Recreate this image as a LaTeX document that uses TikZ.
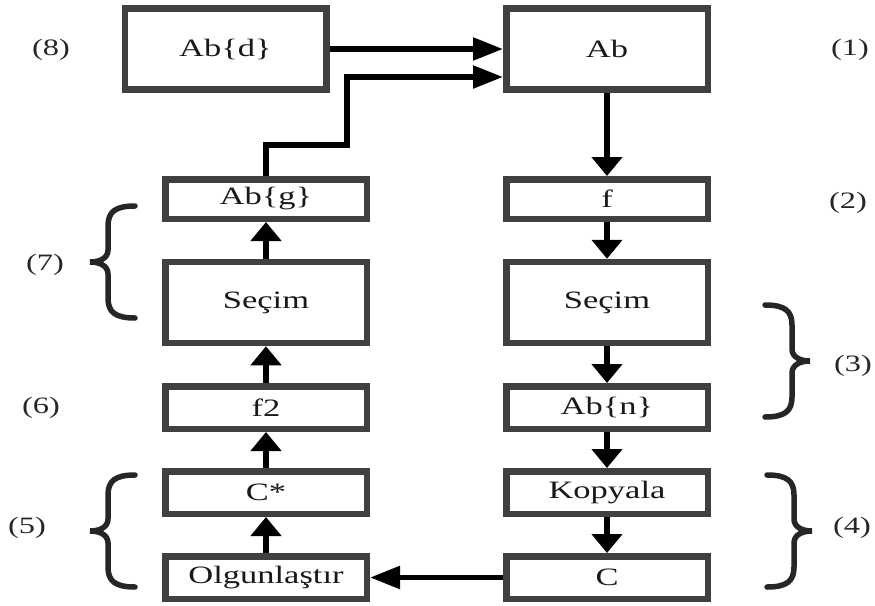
\documentclass[tikz,border=0pt]{standalone}
\usepackage{fontspec}
\setmainfont{Liberation Serif}[FakeStretch=1.38]
\usetikzlibrary{arrows.meta}
\begin{document}
\begin{tikzpicture}[x=1pt,y=-1pt,
  box/.style={draw=black!75,line width=6.5pt,fill=white,inner sep=0pt,
    font=\fontsize{25}{27}\selectfont,text=black!90,minimum width=201.5pt},
  tall/.style={box,minimum height=81pt},
  short/.style={box,minimum height=42.5pt},
  varrow/.style={line width=6.5pt,-{Triangle[length=19pt,width=30pt]}},
  harrow/.style={line width=5.5pt,-{Triangle[length=30pt,width=22pt]}},
  lbl/.style={font=\fontsize{23.5}{25}\selectfont,text=black!85,inner sep=0pt},
  bracestyle/.style={draw=black!85,line width=5.5pt,line cap=round},
  curly/.pic={\draw[bracestyle] (0,0) .. controls (-20,0) and (-27,6) .. (-27,20)
     -- (-27,44) .. controls (-27,52) and (-35,56) .. (-45,56)
     .. controls (-35,56) and (-27,60) .. (-27,68) -- (-27,92)
     .. controls (-27,106) and (-20,112) .. (0,112);},
]
\useasboundingbox (0,0) rectangle (875,605);
% nodes
\node[tall] (abd) at (225.5,49) {Ab\{d\}};
\node[tall] (ab) at (607,49) {Ab};
\node[short,minimum height=39.5pt] (abg) at (266,199) {Ab\{g\}};
\node[short,minimum height=39.5pt] (f) at (607,199) {f};
\node[tall] (sec2) at (266,302.5) {Seçim};
\node[tall] (sec1) at (607,302.5) {Seçim};
\node[short] (f2) at (266,407.5) {f2};
\node[short] (abn) at (607,407.5) {Ab\{n\}};
\node[short] (cs) at (266,492.5) {C*};
\node[short] (kop) at (607,492.5) {Kopyala};
\node[short] (olg) at (266,577.5) {Olgunlaştır};
\node[short] (c) at (607,577.5) {C};
% labels
\node[lbl] (l8) at (51,50) {(8)};
\node[lbl] (l1) at (850,50) {(1)};
\node[lbl] (l2) at (848,203) {(2)};
\node[lbl] (l7) at (45,265) {(7)};
\node[lbl] (l3) at (853,366) {(3)};
\node[lbl] (l6) at (41,408) {(6)};
\node[lbl] (l5) at (27,528) {(5)};
\node[lbl] (l4) at (852,528) {(4)};
% connectors
\coordinate (k1) at (347,145);
\coordinate (k2) at (347,77);
\draw[harrow] (abd.east) -- (ab.west);
\draw[harrow,line join=miter] (abg.north) |- (k1) -- (k2) -- (ab.west |- k2);
\draw[varrow] (ab.south) -- (f.north);
\draw[varrow] (f.south) -- (sec1.north);
\draw[varrow] (sec1.south) -- (abn.north);
\draw[varrow] (abn.south) -- (kop.north);
\draw[varrow] (kop.south) -- (c.north);
\draw[harrow] (c.west) -- (olg.east);
\draw[varrow] (olg.north) -- (cs.south);
\draw[varrow] (cs.north) -- (f2.south);
\draw[varrow] (f2.north) -- (sec2.south);
\draw[varrow] (sec2.north) -- (abg.south);
% braces
\pic at (135,206) {curly};
\pic at (135,475) {curly};
\pic[xscale=-1] at (765,305) {curly};
\pic[xscale=-1] at (767,475) {curly};
\end{tikzpicture}
\end{document}
